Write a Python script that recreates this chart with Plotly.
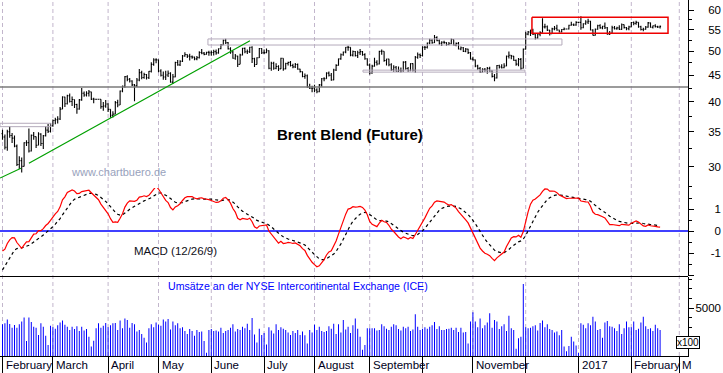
import pandas as pd
import plotly.graph_objects as go

# ---------------- data (Brent front month, daily) ----------------
prior_closes = [  # Nov 2015 - Jan 2016, used only to warm up the MACD
    48.79, 50.54, 48.58, 47.98, 47.42, 47.19, 47.19, 45.81, 44.06, 43.61, 44.56, 43.57, 44.14, 44.18, 44.66,
    44.83, 46.12, 46.17, 45.46, 44.86, 44.61,
    44.44, 42.49, 43.84, 43.00, 40.73, 40.26, 40.11, 39.73, 37.93, 38.45, 38.45, 37.19, 37.06, 36.88, 36.35,
    36.11, 37.36, 37.89, 37.89, 36.62, 37.79, 36.46, 37.28,
    37.28, 37.22, 36.42, 34.23, 33.75, 33.55, 31.55, 30.86, 30.31, 31.03, 28.94, 28.55, 28.76, 27.88, 29.25,
    32.18, 30.50, 31.80, 33.10, 33.89, 34.74]

close_feb16 = [34.24, 32.72, 35.04, 34.46, 34.06, 32.88, 30.32, 30.84, 30.06, 33.36, 33.39, 32.18, 34.50, 34.28, 33.01, 34.69, 33.27, 34.41, 35.29, 35.10, 35.97]
high_feb16 = [35.35, 34.60, 35.35, 35.84, 34.85, 34.47, 33.10, 31.45, 31.25, 33.43, 33.75, 35.55, 34.60, 35.00, 34.30, 34.95, 34.80, 34.55, 35.88, 36.25, 36.42]
low_feb16 = [33.80, 32.40, 32.20, 34.10, 33.35, 32.70, 30.10, 29.70, 29.25, 30.20, 32.90, 31.95, 32.10, 33.80, 32.60, 33.00, 32.90, 32.45, 34.30, 34.85, 34.90]

close_mar16 = [36.81, 36.93, 37.07, 38.72, 40.84, 39.65, 41.07, 40.05, 40.39, 39.53, 38.74, 40.33, 41.54, 41.20, 41.54, 41.79, 40.47, 40.44, 40.44, 40.44, 39.14, 39.26, 39.60]
high_mar16 = [37.00, 37.25, 37.50, 39.10, 41.00, 40.90, 41.25, 41.50, 40.95, 40.35, 39.65, 40.50, 42.50, 41.85, 41.90, 42.15, 41.75, 40.70, 40.50, 40.50, 40.45, 39.95, 40.30]
low_mar16 = [35.80, 36.20, 36.35, 36.90, 38.80, 39.10, 39.50, 39.85, 39.25, 38.90, 37.95, 38.60, 40.20, 40.90, 40.95, 40.95, 40.30, 39.75, 40.35, 40.35, 38.80, 38.45, 38.95]

close_apr16 = [38.67, 37.69, 37.87, 39.84, 39.43, 41.94, 42.83, 44.69, 44.18, 43.84, 43.10, 42.91, 44.03, 45.50, 44.53, 45.11, 44.48, 45.74, 47.18, 48.14, 48.13]
high_apr16 = [39.75, 38.70, 38.35, 40.15, 40.35, 42.05, 43.00, 44.80, 44.95, 44.45, 44.00, 43.25, 44.45, 46.25, 45.90, 45.45, 45.20, 45.85, 47.65, 48.50, 48.50]
low_apr16 = [38.25, 37.25, 37.30, 37.90, 39.05, 39.45, 41.70, 42.55, 43.80, 43.55, 42.90, 40.10, 42.70, 43.80, 44.20, 44.30, 44.15, 44.25, 45.50, 46.90, 47.40]

close_may16 = [45.83, 44.97, 44.62, 45.01, 45.37, 43.63, 44.66, 47.59, 47.08, 47.83, 48.97, 49.28, 48.93, 48.81, 48.72, 48.35, 48.61, 49.74, 49.59, 49.32, 49.76, 49.69]
high_may16 = [48.20, 46.20, 45.70, 45.90, 45.95, 45.55, 45.20, 47.75, 48.10, 48.05, 49.20, 49.80, 49.35, 49.45, 49.10, 48.85, 48.95, 50.00, 50.50, 49.85, 49.90, 50.10]
low_may16 = [45.55, 44.70, 44.10, 44.05, 44.65, 43.50, 43.25, 44.60, 46.90, 46.85, 47.70, 48.80, 48.55, 48.00, 48.40, 48.05, 48.05, 48.45, 49.35, 49.15, 49.30, 49.00]

close_jun16 = [49.72, 49.93, 49.64, 50.55, 51.44, 52.51, 51.95, 50.54, 49.85, 48.49, 48.97, 47.19, 49.17, 50.65, 49.88, 49.88, 50.91, 48.41, 47.16, 48.58, 50.61, 49.68]
high_jun16 = [50.15, 50.35, 50.40, 50.70, 51.65, 52.65, 52.86, 52.10, 50.90, 50.10, 49.40, 49.00, 49.45, 50.80, 50.85, 50.40, 51.00, 51.15, 48.60, 48.70, 50.75, 50.70]
low_jun16 = [49.00, 49.05, 49.25, 49.45, 50.45, 51.40, 51.65, 50.40, 49.45, 48.40, 48.15, 46.65, 47.20, 49.10, 49.55, 49.40, 49.60, 47.50, 46.64, 47.20, 48.55, 49.40]

close_jul16 = [49.71, 50.10, 46.40, 47.43, 46.40, 46.76, 46.25, 48.47, 46.26, 47.37, 47.61, 46.96, 46.66, 47.17, 46.20, 45.69, 44.72, 44.87, 42.70, 42.46, 42.46]
high_jul16 = [50.40, 50.60, 50.25, 47.75, 47.75, 47.40, 47.00, 48.60, 48.50, 47.55, 47.75, 47.90, 47.30, 47.45, 47.35, 46.30, 45.70, 45.30, 45.10, 43.30, 42.95]
low_jul16 = [49.40, 49.55, 46.20, 45.90, 46.10, 46.20, 45.85, 46.30, 45.90, 46.20, 46.95, 46.75, 46.40, 46.45, 46.10, 45.50, 44.60, 44.30, 42.55, 42.30, 41.70]

close_aug16 = [42.14, 41.80, 43.10, 44.29, 44.27, 45.39, 44.98, 44.05, 46.04, 46.97, 48.35, 49.23, 49.85, 50.89, 50.88, 49.16, 49.96, 49.05, 49.67, 49.92, 49.26, 48.37, 47.04]
high_aug16 = [43.10, 42.45, 43.25, 44.45, 44.60, 45.55, 45.70, 45.40, 46.30, 47.20, 48.45, 49.50, 49.95, 50.95, 51.22, 50.90, 50.15, 50.05, 50.10, 50.50, 50.05, 49.55, 48.50]
low_aug16 = [41.70, 41.51, 41.70, 42.75, 43.80, 44.30, 44.70, 43.90, 44.00, 45.85, 46.95, 48.15, 49.00, 49.55, 50.10, 48.90, 48.85, 48.85, 48.55, 49.20, 49.00, 48.15, 46.95]

close_sep16 = [45.45, 46.83, 47.63, 47.26, 49.98, 49.99, 48.01, 48.32, 47.10, 46.10, 46.59, 45.77, 45.95, 45.88, 47.65, 46.32, 45.89, 47.35, 45.97, 48.69, 49.24, 49.06]
high_sep16 = [47.35, 47.10, 48.60, 48.05, 50.10, 50.42, 49.70, 48.40, 48.35, 47.40, 47.00, 46.85, 46.75, 46.55, 47.85, 47.90, 46.65, 47.40, 47.40, 48.95, 49.75, 49.50]
low_sep16 = [45.10, 45.25, 46.70, 46.95, 47.15, 49.25, 47.75, 46.95, 46.80, 45.85, 45.65, 45.70, 45.60, 45.50, 45.65, 46.10, 45.65, 45.75, 45.70, 45.45, 48.40, 48.55]

close_oct16 = [50.89, 50.87, 51.86, 52.51, 51.93, 53.14, 52.41, 51.81, 52.03, 51.95, 51.52, 51.68, 52.67, 51.38, 51.78, 50.52, 50.79, 49.98, 50.47, 49.71, 48.30]
high_oct16 = [51.10, 51.20, 51.95, 52.85, 52.75, 53.73, 53.45, 52.70, 52.25, 52.40, 52.05, 52.10, 52.90, 52.70, 51.95, 52.10, 51.05, 50.95, 50.75, 50.55, 49.85]
low_oct16 = [48.85, 50.30, 50.60, 51.60, 51.70, 51.85, 52.25, 51.45, 51.20, 51.70, 51.25, 51.35, 51.55, 51.30, 51.10, 50.40, 50.25, 49.85, 49.80, 49.40, 48.20]

close_nov16 = [48.14, 46.86, 46.35, 45.58, 46.15, 46.04, 46.36, 45.84, 44.75, 44.43, 46.95, 46.63, 46.49, 46.86, 48.90, 49.12, 48.95, 48.03, 47.24, 48.24, 46.38, 50.47]
high_nov16 = [48.80, 48.20, 47.10, 46.65, 46.40, 46.45, 46.65, 46.70, 46.00, 45.20, 47.05, 47.10, 47.20, 47.40, 49.05, 49.95, 49.20, 48.95, 48.20, 48.55, 48.55, 50.60]
low_nov16 = [48.00, 46.60, 46.10, 45.40, 45.55, 45.65, 45.25, 45.65, 44.55, 43.78, 44.35, 46.35, 46.35, 46.40, 46.80, 48.45, 48.25, 47.95, 46.90, 46.80, 46.10, 46.35]

close_dec16 = [53.94, 54.46, 54.94, 53.93, 53.00, 53.89, 54.33, 55.69, 55.72, 54.90, 54.02, 55.21, 55.35, 54.92, 54.46, 55.05, 55.16, 55.16, 56.09, 56.22, 56.14, 56.82]
high_dec16 = [54.53, 54.68, 55.00, 55.25, 54.10, 53.95, 54.60, 57.89, 56.45, 56.05, 54.70, 55.45, 55.90, 56.20, 55.00, 55.20, 55.55, 55.20, 56.20, 57.00, 56.50, 57.10]
low_dec16 = [50.40, 53.65, 53.50, 53.75, 52.70, 52.85, 53.45, 55.10, 55.30, 54.70, 53.60, 54.00, 54.85, 54.75, 54.30, 54.35, 54.85, 55.10, 55.05, 56.00, 55.90, 55.95]

close_jan17 = [56.82, 55.47, 56.46, 56.89, 57.10, 54.94, 53.64, 55.10, 56.01, 55.45, 55.86, 55.47, 53.92, 54.16, 55.49, 55.23, 55.44, 55.08, 56.24, 55.52, 55.23, 55.70]
high_jan17 = [56.90, 58.37, 56.60, 57.35, 57.75, 57.20, 55.10, 55.30, 56.20, 56.35, 56.00, 56.80, 55.65, 54.70, 55.95, 55.90, 55.75, 56.10, 56.50, 56.30, 55.65, 56.00]
low_jan17 = [56.75, 55.00, 55.35, 56.20, 56.40, 54.80, 53.60, 53.75, 55.00, 55.25, 55.10, 55.15, 53.80, 53.70, 54.05, 55.05, 55.00, 54.90, 55.00, 55.30, 54.85, 54.85]

close_feb17 = [56.80, 56.56, 56.81, 55.72, 55.05, 55.12, 55.63, 56.70, 55.59, 55.97, 55.75, 55.65, 55.81]
high_feb17 = [56.90, 57.05, 57.25, 56.85, 55.95, 55.50, 55.90, 56.90, 56.80, 56.05, 56.35, 56.00, 56.05]
low_feb17 = [55.60, 56.10, 56.25, 55.45, 54.80, 54.60, 55.00, 55.50, 55.45, 55.30, 55.55, 55.40, 55.30]

# volume (x100 contracts)
vol_feb16 = [3300, 3400, 3800, 3330, 2950, 3230, 2950, 3300, 3600, 4000, 1560, 4000, 3550, 3050, 2950, 2200, 3400, 3050, 2100, 1150, 3150]
vol_mar16 = [3000, 2850, 3200, 3500, 3700, 3250, 3050, 2700, 3050, 2800, 3100, 2600, 3050, 2650, 2800, 2000, 1000, 1600, 2900, 3400, 2950, 3150, 3450]
vol_apr16 = [3000, 3200, 3400, 3450, 2700, 3700, 2900, 3900, 3750, 2950, 3450, 3300, 2550, 2700, 2300, 1900, 1400, 2900, 3300, 3000, 3500]
vol_may16 = [3250, 3150, 3800, 3600, 3850, 2750, 3600, 3200, 3400, 2900, 3000, 2600, 2300, 2800, 2600, 2100, 2700, 2500, 2550, 1550, 350, 2700]
vol_jun16 = [2800, 2600, 2650, 2550, 2950, 2400, 2600, 2700, 2950, 3300, 2550, 2800, 2700, 3050, 2900, 3350, 2700, 3950, 2250, 1400, 2850, 2200]
vol_jul16 = [2400, 1200, 3000, 2650, 2350, 3300, 2700, 3000, 2850, 2700, 2450, 2200, 2600, 2400, 2700, 2200, 2550, 2150, 1300, 2700, 2450]
vol_aug16 = [3250, 2700, 3050, 2600, 2500, 2600, 3100, 2850, 3350, 2300, 3300, 2450, 3750, 2750, 3050, 2400, 3200, 3900, 2850, 2000, 650, 1150, 2900]
vol_sep16 = [2900, 2900, 2900, 2650, 2700, 3300, 3100, 2850, 2700, 3050, 3300, 3200, 2800, 2650, 3050, 2900, 3050, 2600, 2750, 4350, 3050, 2700]
vol_oct16 = [2850, 3000, 2850, 3050, 3200, 3550, 2800, 3100, 2700, 2700, 2800, 2850, 2950, 2700, 2950, 2500, 2950, 2450, 2500, 1300, 3600]
vol_nov16 = [4550, 3600, 3000, 3900, 2900, 3200, 3500, 4450, 2950, 3750, 3600, 2800, 3100, 3300, 2600, 4200, 2900, 2700, 750, 1850, 2000, 7500]
vol_dec16 = [3000, 2900, 2950, 3100, 3200, 2650, 3450, 3700, 3000, 3300, 2800, 2700, 2450, 2550, 2150, 2700, 1000, 500, 1050, 2000, 1500, 1100]
vol_jan17 = [300, 3400, 3250, 2900, 3400, 3200, 4100, 3600, 2700, 2800, 1900, 3500, 3650, 3100, 3050, 2900, 2600, 3300, 2300, 2900, 3600, 3000]
vol_feb17 = [3000, 3600, 2700, 2850, 3500, 4100, 3100, 2800, 2900, 2600, 3250, 2900, 2700]

month_labels = ["February", "March", "April", "May", "June", "July", "August", "September",
                None, "November", None, "2017", "February", "M"]
price_ticks = [30, 35, 40, 45, 50, 55, 60]
macd_ticks = [-1, 0, 1]
vol_ticks = [5000]

# drawing objects (price values)
support_line = 42.7
trend_x = [-1.04, 7.7, None, 11.0, 103.1]
trend_y = [28.55, 29.81, None, 30.48, 52.4]
boxes = [  # x0, x1, y_low, y_high
    (-1.04, 20.2, 35.83, 36.37),
    (85.6, 233.1, 51.4, 52.8),
    (150.2, 217.7, 45.6, 46.0),
]
red_box = (220.6, 277.3, 54.15, 58.1)

# ---------------- assemble ----------------
closes = (close_feb16 + close_mar16 + close_apr16 + close_may16 + close_jun16 + close_jul16 + close_aug16 +
          close_sep16 + close_oct16 + close_nov16 + close_dec16 + close_jan17 + close_feb17)
highs = (high_feb16 + high_mar16 + high_apr16 + high_may16 + high_jun16 + high_jul16 + high_aug16 +
         high_sep16 + high_oct16 + high_nov16 + high_dec16 + high_jan17 + high_feb17)
lows = (low_feb16 + low_mar16 + low_apr16 + low_may16 + low_jun16 + low_jul16 + low_aug16 +
        low_sep16 + low_oct16 + low_nov16 + low_dec16 + low_jan17 + low_feb17)
volume = (vol_feb16 + vol_mar16 + vol_apr16 + vol_may16 + vol_jun16 + vol_jul16 + vol_aug16 +
          vol_sep16 + vol_oct16 + vol_nov16 + vol_dec16 + vol_jan17 + vol_feb17)
opens = [prior_closes[-1]] + closes[:-1]
highs = [max(h, o, c) for h, o, c in zip(highs, opens, closes)]
lows = [min(l, o, c) for l, o, c in zip(lows, opens, closes)]

n = len(closes)
idx = list(range(n))
cal = pd.bdate_range("2016-02-01", "2017-03-01")
month_starts = [i for i in range(len(cal)) if i == 0 or cal[i].month != cal[i - 1].month]

allc = pd.Series(prior_closes + closes)
ema12 = allc.ewm(span=12, adjust=False).mean()
ema26 = allc.ewm(span=26, adjust=False).mean()
macd = ema12 - ema26
signal = macd.ewm(span=9, adjust=False).mean()
macd = macd.iloc[-n:].tolist()
signal = signal.iloc[-n:].tolist()

W, H = 723, 373
X0, X1 = -1.042, 285.625
XR = 688 / W


def py(p):
    return (H - p) / H


FONT = "Liberation Sans, Arial, sans-serif"
fig = go.Figure()

fig.add_trace(go.Bar(x=idx, y=volume, width=0.42, marker=dict(color="#0000ff", line_width=0),
                     xaxis="x", yaxis="y3"))
fig.add_trace(go.Scatter(x=[X0, X1], y=[0, 0], mode="lines", line=dict(color="#0000ff", width=1.5),
                         xaxis="x", yaxis="y2"))
fig.add_trace(go.Scatter(x=idx, y=signal, mode="lines", line=dict(color="black", width=1.2, dash="3px,3px"),
                         xaxis="x", yaxis="y2"))
fig.add_trace(go.Scatter(x=idx, y=macd, mode="lines", line=dict(color="#ff0000", width=1.2),
                         xaxis="x", yaxis="y2"))

fig.add_trace(go.Scatter(x=[X0, X1], y=[support_line, support_line], mode="lines",
                         line=dict(color="#7a7a7a", width=1.4), xaxis="x", yaxis="y"))
for (a, b, lo, hi) in boxes:
    fig.add_trace(go.Scatter(x=[a, b, b, a, a], y=[hi, hi, lo, lo, hi], mode="lines",
                             line=dict(color="#b4aabb", width=1), xaxis="x", yaxis="y"))
a, b, lo, hi = red_box
fig.add_trace(go.Scatter(x=[a, b, b, a, a], y=[hi, hi, lo, lo, hi], mode="lines",
                         line=dict(color="#ee0000", width=1.5), xaxis="x", yaxis="y"))
fig.add_trace(go.Scatter(x=trend_x, y=trend_y, mode="lines", line=dict(color="#00a000", width=1.2),
                         xaxis="x", yaxis="y"))

fig.add_trace(go.Ohlc(x=idx, open=opens, high=highs, low=lows, close=closes, tickwidth=0.4,
                      increasing=dict(line=dict(color="black", width=1.1)),
                      decreasing=dict(line=dict(color="black", width=1.1)),
                      xaxis="x", yaxis="y"))

shapes = []
for m in month_starts:
    shapes.append(dict(type="line", xref="x", yref="paper", x0=m, x1=m, y0=py(356), y1=1,
                       line=dict(color="#c2b6cc", width=1, dash="4px,3px"), layer="below"))
shapes.append(dict(type="line", xref="paper", yref="paper", x0=0, x1=XR, y0=py(276.5), y1=py(276.5),
                   line=dict(color="black", width=1)))

annotations = []
for m, lab in zip(month_starts, month_labels):
    if lab:
        annotations.append(dict(x=m, xref="x", y=py(365), yref="paper", text=lab, showarrow=False,
                                xanchor="left", yanchor="middle", xshift=1,
                                font=dict(family=FONT, size=11.5, color="#000020")))
annotations += [
    dict(x=349.5 / W, y=py(124), xref="paper", yref="paper", text="<b>Brent Blend (Future)</b>",
         showarrow=False, font=dict(family=FONT, size=15, color="black")),
    dict(x=69 / W, y=py(172), xref="paper", yref="paper", text="www.chartbuero.de",
         showarrow=False, font=dict(family=FONT, size=11, color="#98a2bc")),
    dict(x=131.5 / W, y=py(259), xref="paper", yref="paper", text="MACD (12/26/9)",
         showarrow=False, font=dict(family=FONT, size=11.5, color="#101020")),
    dict(x=166 / W, y=py(294), xref="paper", yref="paper",
         text="Umsätze an der NYSE Intercontinental Exchange (ICE)",
         showarrow=False, font=dict(family=FONT, size=10.6, color="#0000ff")),
    dict(x=699.5 / W, y=py(348.5), xref="paper", yref="paper", text="x100", showarrow=False,
         font=dict(family=FONT, size=10, color="black"), bordercolor="black", borderwidth=1,
         borderpad=0, bgcolor="white"),
]

log_lo, log_hi = 1.4365, 1.7974
tick_font = dict(family=FONT, size=11.5, color="black")
LABPOS = 721 / W
common_axis = dict(showline=True, linecolor="black", linewidth=1, ticks="outside", tickcolor="black",
                   showgrid=False, zeroline=False, showticklabels=False, side="right", anchor="x",
                   automargin=False)
label_axis = dict(side="left", anchor="free", position=LABPOS, showline=False, ticks="",
                  showgrid=False, zeroline=False, tickfont=tick_font, automargin=False)

fig.update_layout(
    template="none",
    width=W, height=H, margin=dict(l=0, r=0, t=0, b=0, pad=0),
    paper_bgcolor="white", plot_bgcolor="rgba(0,0,0,0)", showlegend=False, hovermode=False,
    xaxis=dict(domain=[0, XR], range=[X0, X1], anchor="y3", showgrid=False, zeroline=False,
               showline=True, linecolor="black", linewidth=1, tickvals=month_starts, ticks="outside",
               ticklen=17, tickcolor="black", showticklabels=False, rangeslider=dict(visible=False),
               automargin=False),
    yaxis=dict(domain=[py(188), 1], type="log", range=[log_lo, log_hi], tickvals=price_ticks, ticklen=5,
               minor=dict(ticks="outside", ticklen=3, tickcolor="black",
                          tickvals=[27.5, 32.5, 37.5, 42.5, 47.5, 52.5, 57.5]),
               **common_axis),
    yaxis2=dict(domain=[py(276), py(188)], range=[-2.045, 1.955], tickvals=[-2, -1, 0, 1, 2], ticklen=5,
                minor=dict(ticks="outside", ticklen=3, tickcolor="black", tickvals=[-1.5, -0.5, 0.5, 1.5]),
                **common_axis),
    yaxis3=dict(domain=[py(356), py(277)], range=[0, 8230], tickvals=vol_ticks, ticklen=5,
                minor=dict(ticks="outside", ticklen=3, tickcolor="black",
                           tickvals=[1000, 2000, 3000, 4000, 6000, 7000, 8000]),
                **common_axis),
    yaxis4=dict(overlaying="y", type="log", range=[log_lo, log_hi], tickvals=price_ticks,
                ticktext=[str(t) for t in price_ticks], **label_axis),
    yaxis5=dict(overlaying="y2", range=[-2.045, 1.955], tickvals=macd_ticks,
                ticktext=[str(t) for t in macd_ticks], **label_axis),
    yaxis6=dict(overlaying="y3", range=[0, 8230], tickvals=vol_ticks,
                ticktext=[str(t) for t in vol_ticks], **label_axis),
    shapes=shapes, annotations=annotations,
)
# empty traces so the label axes render
for ax in ["y4", "y5", "y6"]:
    fig.add_trace(go.Scatter(x=[None], y=[None], xaxis="x", yaxis=ax))

fig.write_html("out.html", config={"displayModeBar": False, "staticPlot": True},
               post_script="document.body.style.margin='0';document.body.style.overflow='hidden';")
